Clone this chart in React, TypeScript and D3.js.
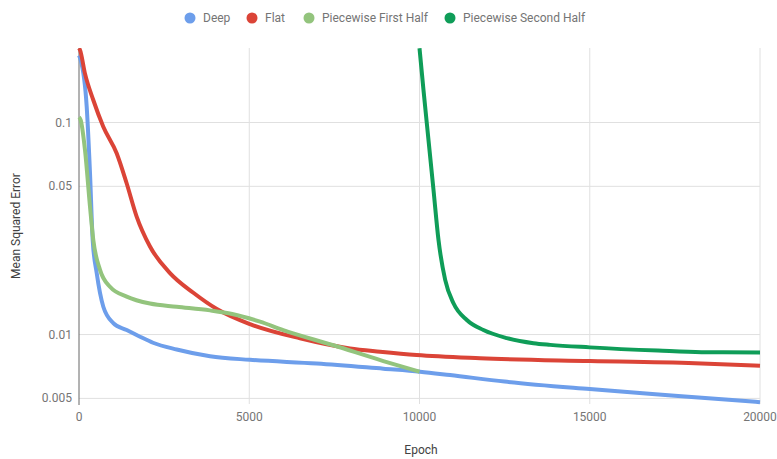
import React from "react";
import * as d3 from "d3";

const deepX = [0, 50, 226, 323, 402, 520, 714, 1007, 1401, 1792, 2173, 2870, 3848, 5022, 6984, 8938, 10015, 10896, 12500, 15000, 17500, 20000];
const deepY = [0.207, 0.197, 0.1187, 0.0578, 0.0279, 0.0195, 0.01353, 0.01133, 0.0105, 0.00977, 0.00915, 0.0085, 0.0079, 0.0076, 0.0073, 0.0069, 0.00668, 0.00644, 0.006, 0.00553, 0.00515, 0.0048];

const flatX = [0, 29, 176, 419, 713, 1106, 1399, 1693, 2085, 2672, 3368, 4047, 5022, 6490, 7958, 8840, 9915, 11778, 15000, 18282, 20000];
const flatY = [0.224, 0.2198, 0.17, 0.1277, 0.0955, 0.0716, 0.0517, 0.036, 0.026, 0.0195, 0.0157, 0.0132, 0.0112, 0.0096, 0.0086, 0.0083, 0.008, 0.00773, 0.0075, 0.00731, 0.00713];

const firstX = [0, 50, 176, 323, 420, 617, 910, 1401, 2085, 2870, 3848, 4500, 5316, 5998, 7468, 8938, 10000];
const firstY = [0.106, 0.1027, 0.0742, 0.0401, 0.0279, 0.0202, 0.0168, 0.0151, 0.014, 0.01353, 0.0130, 0.0125, 0.0115, 0.0105, 0.0089, 0.0075, 0.00668];

const secondX = [10000, 10117, 10264, 10411, 10558, 10754, 10998, 11390, 11877, 12565, 13347, 13837, 15000, 17000, 18282, 20000];
const secondY = [0.224, 0.1423, 0.0827, 0.0481, 0.0279, 0.0181, 0.01405, 0.01171, 0.0105, 0.00962, 0.0091, 0.00894, 0.0087, 0.0084, 0.00826, 0.00824];

const seriesNames = ["Deep", "Flat", "Piecewise First Half", "Piecewise Second Half"];
const seriesColors = ["#6d9eeb", "#db4437", "#93c47d", "#0f9d58"];
const xTicks = [0, 5000, 10000, 15000, 20000];
const yTicks = [0.005, 0.01, 0.05, 0.1];
const yTickLabels = ["0.005", "0.01", "0.05", "0.1"];

const W = 777;
const H = 459;
const left = 79;
const right = 760;
const top = 48;
const bottom = 404;

export default function App() {
  const x = d3.scaleLinear().domain([0, 20000]).range([left, right]);
  const y = d3.scaleLog().domain([0.004704, 0.2246]).range([bottom, top]);
  const line = d3
    .line<[number, number]>()
    .x((d) => x(d[0]))
    .y((d) => y(d[1]))
    .curve(d3.curveMonotoneX);

  const series = [
    [deepX, deepY],
    [flatX, flatY],
    [firstX, firstY],
    [secondX, secondY],
  ].map(([xs, ys]) => xs.map((v, i) => [v, ys[i]] as [number, number]));

  const legendX = [190, 252, 309, 450];
  const font = "Roboto, 'Noto Sans', sans-serif";

  return (
    <svg width={W} height={H} style={{ position: "absolute", left: 0, top: 0, background: "#fff" }} fontFamily={font}>
      <defs>
        <clipPath id="plot">
          <rect x={left - 4} y={top} width={right - left + 8} height={bottom - top + 2} />
        </clipPath>
      </defs>
      {yTicks.map((t) => (
        <line key={"gy" + t} x1={left} x2={right} y1={y(t)} y2={y(t)} stroke="#e0e0e0" strokeWidth={1} />
      ))}
      {xTicks.slice(1).map((t) => (
        <line key={"gx" + t} x1={x(t)} x2={x(t)} y1={top} y2={bottom} stroke="#e0e0e0" strokeWidth={1} />
      ))}
      <line x1={left} x2={left} y1={top} y2={bottom + 1} stroke="#666" strokeWidth={1} />
      {yTicks.map((t, i) => (
        <text key={"ly" + t} x={72} y={y(t) + 4} textAnchor="end" fontSize={12} fill="#757575">
          {yTickLabels[i]}
        </text>
      ))}
      {xTicks.map((t) => (
        <text key={"lx" + t} x={x(t)} y={421} textAnchor="middle" fontSize={12} fill="#757575">
          {t}
        </text>
      ))}
      <text x={421} y={454} textAnchor="middle" fontSize={12} fill="#424242">
        Epoch
      </text>
      <text
        transform={`translate(20,${(top + bottom) / 2}) rotate(-90)`}
        textAnchor="middle"
        fontSize={12}
        fill="#424242"
      >
        Mean Squared Error
      </text>
      <g clipPath="url(#plot)">
        {series.map((s, i) => (
          <path
            key={"s" + i}
            d={line(s) || ""}
            fill="none"
            stroke={seriesColors[i]}
            strokeWidth={4}
            strokeLinejoin="round"
            strokeLinecap="butt"
          />
        ))}
      </g>
      {seriesNames.map((n, i) => (
        <g key={"lg" + i}>
          <circle cx={legendX[i]} cy={18} r={5.5} fill={seriesColors[i]} />
          <text x={legendX[i] + 13} y={22} fontSize={12} fill="#757575">
            {n}
          </text>
        </g>
      ))}
    </svg>
  );
}
